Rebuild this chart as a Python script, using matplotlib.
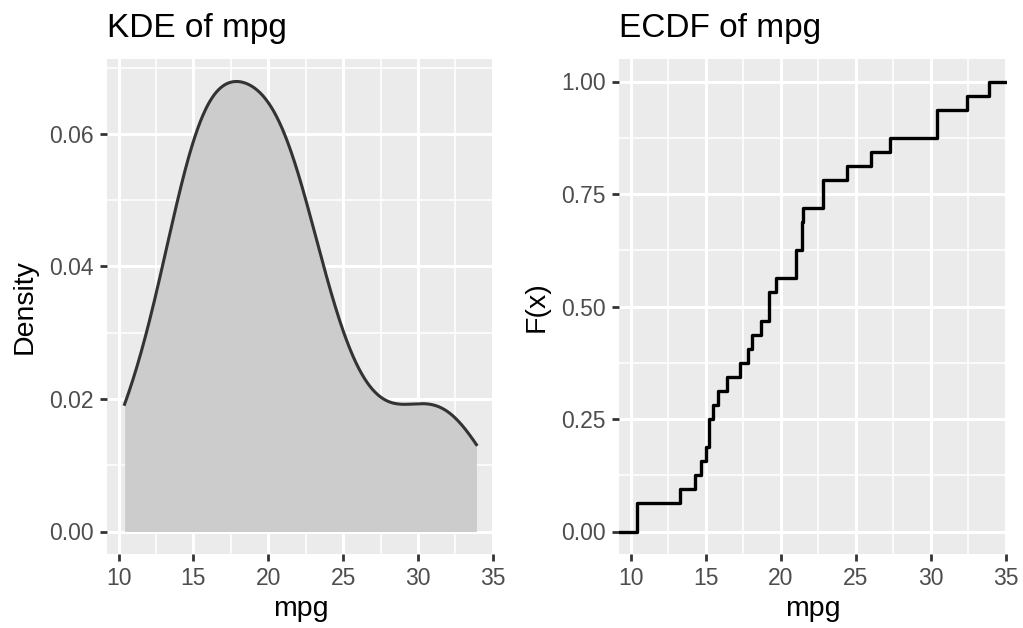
import numpy as np
import matplotlib
matplotlib.use("Agg")
import matplotlib.pyplot as plt
from matplotlib.ticker import FixedLocator

# mtcars mpg values
mpg = [21.0, 21.0, 22.8, 21.4, 18.7, 18.1, 14.3, 24.4, 22.8, 19.2, 17.8,
       16.4, 17.3, 15.2, 10.4, 10.4, 14.7, 32.4, 30.4, 33.9, 21.5, 15.5,
       15.2, 13.3, 19.2, 27.3, 26.0, 30.4, 15.8, 19.7, 15.0, 21.4]

x_ticks = [10, 15, 20, 25, 30, 35]
x_minor = [12.5, 17.5, 22.5, 27.5, 32.5]
kde_y_ticks = [0.00, 0.02, 0.04, 0.06]
kde_y_minor = [0.01, 0.03, 0.05, 0.07]
ecdf_y_ticks = [0.00, 0.25, 0.50, 0.75, 1.00]
ecdf_y_minor = [0.125, 0.375, 0.625, 0.875]

plt.rcParams["font.family"] = ["Liberation Sans", "DejaVu Sans"]

BG = "#EBEBEB"
TICK_COL = "#4D4D4D"

# ---- KDE (gaussian, bw.nrd0 like R) ----
data = np.array(mpg)
n = len(data)
q1, q3 = np.percentile(data, [25, 75])
bw = 0.9 * min(data.std(ddof=1), (q3 - q1) / 1.34) * n ** -0.2
grid = np.linspace(data.min(), data.max(), 512)
dens = np.exp(-0.5 * ((grid[:, None] - data[None, :]) / bw) ** 2).sum(axis=1)
dens = dens / (n * bw * np.sqrt(2 * np.pi))

# ---- ECDF ----
xs = np.sort(data)
ys = np.arange(1, n + 1) / n

rng = data.max() - data.min()
xlim = (data.min() - 0.05 * rng, data.max() + 0.05 * rng)

fig = plt.figure(figsize=(10.23, 6.28), dpi=100)
ax1 = fig.add_axes([107 / 1023, 74 / 628, 387 / 1023, 495 / 628])
ax2 = fig.add_axes([619 / 1023, 74 / 628, 388 / 1023, 495 / 628])


def style(ax, yticks, yminor, ylabel, title):
    ax.set_facecolor(BG)
    for s in ax.spines.values():
        s.set_visible(False)
    ax.set_xlim(*xlim)
    ax.xaxis.set_major_locator(FixedLocator(x_ticks))
    ax.xaxis.set_minor_locator(FixedLocator(x_minor))
    ax.yaxis.set_major_locator(FixedLocator(yticks))
    ax.yaxis.set_minor_locator(FixedLocator(yminor))
    ax.grid(which="major", color="white", linewidth=2.2)
    ax.grid(which="minor", color="white", linewidth=1.1)
    ax.set_axisbelow(True)
    ax.tick_params(which="major", length=5, width=2.0, color="#333333",
                   labelsize=16.5, labelcolor=TICK_COL, pad=4.5)
    ax.tick_params(which="minor", length=0)
    ax.set_xlabel("mpg", fontsize=20.5, labelpad=4)
    ax.set_ylabel(ylabel, fontsize=20.5, labelpad=8)
    ax.set_title(title, loc="left", fontsize=24, pad=16)


ymax = dens.max()
ax1.fill_between(grid, 0, dens, color="#CCCCCC", linewidth=0, zorder=2)
ax1.plot(grid, dens, color="#333333", linewidth=2.2, zorder=3)
ax1.set_ylim(-0.05 * ymax, 1.05 * ymax)
style(ax1, kde_y_ticks, kde_y_minor, "Density", "KDE of mpg")
ax1.set_yticklabels(["%.2f" % v for v in kde_y_ticks])

ex = np.concatenate([[xlim[0] - 1], xs, [xlim[1] + 1]])
ey = np.concatenate([[0], ys, [1]])
ax2.step(ex, ey, where="post", color="black", linewidth=2.4, zorder=3)
ax2.set_ylim(-0.05, 1.05)
style(ax2, ecdf_y_ticks, ecdf_y_minor, "F(x)", "ECDF of mpg")
ax2.set_yticklabels(["%.2f" % v for v in ecdf_y_ticks])
ax2.set_xlim(*xlim)

fig.savefig("out.png", dpi=100)
